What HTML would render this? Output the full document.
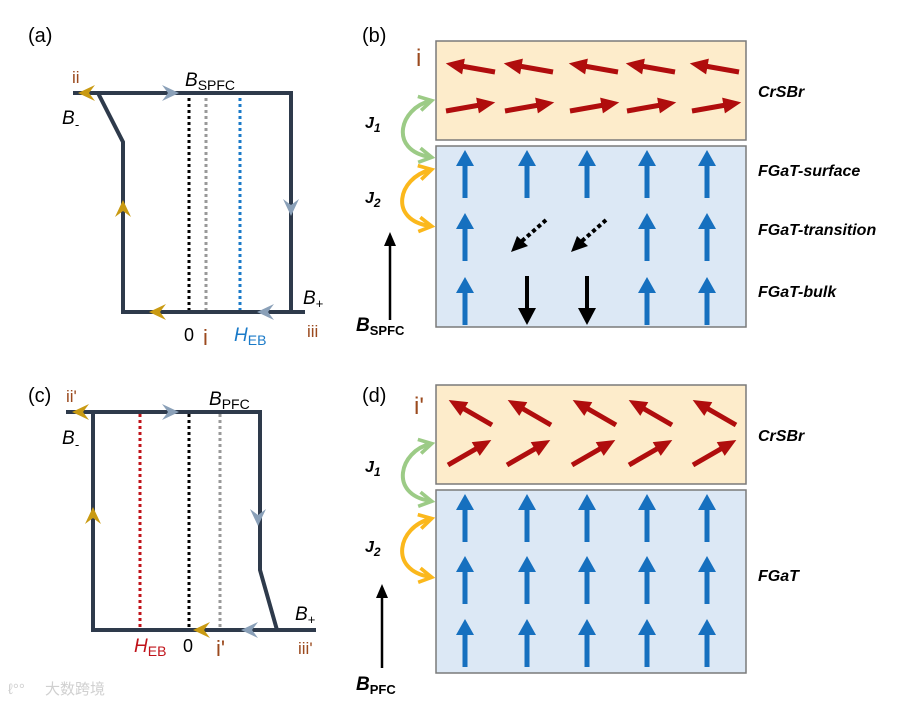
<!DOCTYPE html>
<html><head><meta charset="utf-8"><style>
body{margin:0;background:#fff}
svg{display:block;font-family:"Liberation Sans","Noto Sans CJK SC",sans-serif}
.bi{font-weight:bold;font-style:italic;font-size:16px}
</style></head><body>
<svg width="920" height="708" viewBox="0 0 920 708" xmlns="http://www.w3.org/2000/svg">
<defs>
<marker id="ag" viewBox="0 0 10 10" refX="7" refY="5" markerWidth="4.5" markerHeight="4.5" orient="auto-start-reverse"><path d="M1,1 L8,5 L1,9" fill="none" stroke="#9ccb86" stroke-width="2"/></marker>
<marker id="ao" viewBox="0 0 10 10" refX="7" refY="5" markerWidth="4.5" markerHeight="4.5" orient="auto-start-reverse"><path d="M1,1 L8,5 L1,9" fill="none" stroke="#fbb81c" stroke-width="2"/></marker>
<g id="chev"><polygon points="-9,-8 8,0 -9,8 -3,0"/></g>
<g id="blue"><line x1="0" y1="48" x2="0" y2="14" stroke="#1670bf" stroke-width="5"/><polygon points="-9,16 9,16 0,0" fill="#1670bf"/></g>
<g id="red"><line x1="0" y1="0" x2="-36" y2="0" stroke="#b00d0d" stroke-width="5"/><polygon points="-32,-8 -32,8 -50,0" fill="#b00d0d"/></g>
</defs>

<!-- (a) -->
<text x="28" y="42" font-size="20">(a)</text>
<g stroke="#2e3a4b" stroke-width="4" fill="none" stroke-linejoin="miter">
<polyline points="73,93 291,93 291,312"/>
<polyline points="98,93 123,142 123,312 305,312"/>
</g>
<g stroke-width="3" stroke-dasharray="3,3">
<line x1="189" y1="98" x2="189" y2="310" stroke="#000"/>
<line x1="206" y1="98" x2="206" y2="310" stroke="#999"/>
<line x1="240" y1="98" x2="240" y2="310" stroke="#1a7ac8"/>
</g>
<use href="#chev" transform="translate(86,93) rotate(180)" fill="#c99a12"/>
<use href="#chev" transform="translate(171,93)" fill="#8aa0b8"/>
<use href="#chev" transform="translate(291,208) rotate(90)" fill="#8aa0b8"/>
<use href="#chev" transform="translate(123,208) rotate(-90)" fill="#c99a12"/>
<use href="#chev" transform="translate(157,312) rotate(180)" fill="#c99a12"/>
<use href="#chev" transform="translate(265,312) rotate(180)" fill="#8aa0b8"/>
<text x="72" y="83" font-size="17" fill="#9b4a1e">ii</text>
<text x="62" y="124" font-size="19" font-style="italic">B<tspan font-size="13" dy="5">-</tspan></text>
<text x="185" y="86" font-size="19" font-style="italic">B<tspan font-style="normal" font-size="14" dy="4">SPFC</tspan></text>
<text x="303" y="304" font-size="19" font-style="italic">B<tspan font-style="normal" font-size="13" dy="4">+</tspan></text>
<text x="307" y="337" font-size="17" fill="#9b4a1e">iii</text>
<text x="184" y="341" font-size="18">0</text>
<text x="203" y="345" font-size="22" fill="#9b4a1e">i</text>
<text x="234" y="341" font-size="19" font-style="italic" fill="#1a7ac8">H<tspan font-style="normal" font-size="14" dy="4">EB</tspan></text>

<!-- (c) -->
<text x="28" y="402" font-size="20">(c)</text>
<g stroke="#2e3a4b" stroke-width="4" fill="none">
<polyline points="66,412 260,412 260,570 277,630"/>
<polyline points="93,412 93,630 316,630"/>
</g>
<g stroke-width="3" stroke-dasharray="3,3">
<line x1="140" y1="414" x2="140" y2="628" stroke="#c0131a"/>
<line x1="189" y1="414" x2="189" y2="628" stroke="#000"/>
<line x1="220" y1="414" x2="220" y2="628" stroke="#999"/>
</g>
<use href="#chev" transform="translate(80,412) rotate(180)" fill="#c99a12"/>
<use href="#chev" transform="translate(171,412)" fill="#8aa0b8"/>
<use href="#chev" transform="translate(258,518) rotate(90)" fill="#8aa0b8"/>
<use href="#chev" transform="translate(93,515) rotate(-90)" fill="#c99a12"/>
<use href="#chev" transform="translate(201,630) rotate(180)" fill="#c99a12"/>
<use href="#chev" transform="translate(249,630) rotate(180)" fill="#8aa0b8"/>
<text x="66" y="402" font-size="17" fill="#9b4a1e">ii'</text>
<text x="62" y="444" font-size="19" font-style="italic">B<tspan font-size="13" dy="5">-</tspan></text>
<text x="209" y="405" font-size="19" font-style="italic">B<tspan font-style="normal" font-size="14" dy="4">PFC</tspan></text>
<text x="295" y="620" font-size="19" font-style="italic">B<tspan font-style="normal" font-size="13" dy="4">+</tspan></text>
<text x="298" y="654" font-size="17" fill="#9b4a1e">iii'</text>
<text x="134" y="652" font-size="19" font-style="italic" fill="#c0131a">H<tspan font-style="normal" font-size="14" dy="4">EB</tspan></text>
<text x="183" y="652" font-size="18">0</text>
<text x="216" y="656" font-size="22" fill="#9b4a1e">i'</text>

<!-- (b) -->
<text x="362" y="42" font-size="20">(b)</text>
<text x="416" y="66" font-size="24" fill="#9b4a1e">i</text>
<rect x="436" y="41" width="310" height="99" fill="#fdeccb" stroke="#7a7a7a" stroke-width="1.5"/>
<rect x="436" y="146" width="310" height="181" fill="#dce8f5" stroke="#7a7a7a" stroke-width="1.5"/>
<g>
<use href="#red" transform="translate(495,72) rotate(10)"/>
<use href="#red" transform="translate(553,72) rotate(10)"/>
<use href="#red" transform="translate(618,72) rotate(10)"/>
<use href="#red" transform="translate(675,72) rotate(10)"/>
<use href="#red" transform="translate(739,72) rotate(10)"/>
<use href="#red" transform="translate(446,111) rotate(170)"/>
<use href="#red" transform="translate(505,111) rotate(170)"/>
<use href="#red" transform="translate(570,111) rotate(170)"/>
<use href="#red" transform="translate(627,111) rotate(170)"/>
<use href="#red" transform="translate(692,111) rotate(170)"/>
</g>
<g>
<use href="#blue" x="465" y="150"/><use href="#blue" x="527" y="150"/><use href="#blue" x="587" y="150"/><use href="#blue" x="647" y="150"/><use href="#blue" x="707" y="150"/>
<use href="#blue" x="465" y="213"/><use href="#blue" x="647" y="213"/><use href="#blue" x="707" y="213"/>
<use href="#blue" x="465" y="277"/><use href="#blue" x="647" y="277"/><use href="#blue" x="707" y="277"/>
</g>
<g stroke="#000" stroke-width="4">
<line x1="527" y1="276" x2="527" y2="310"/><line x1="587" y1="276" x2="587" y2="310"/>
<line x1="546" y1="220" x2="522" y2="241" stroke-dasharray="4,3"/>
<line x1="606" y1="220" x2="582" y2="241" stroke-dasharray="4,3"/>
</g>
<polygon points="518,308 536,308 527,325" fill="#000"/>
<polygon points="578,308 596,308 587,325" fill="#000"/>
<polygon points="511,252 517,236 528,246" fill="#000"/>
<polygon points="571,252 577,236 588,246" fill="#000"/>
<path d="M430,101 C400,108 388,150 430,157" fill="none" stroke="#9ccb86" stroke-width="4" marker-start="url(#ag)" marker-end="url(#ag)"/>
<path d="M430,170 C398,178 388,220 430,226" fill="none" stroke="#fbb81c" stroke-width="4" marker-start="url(#ao)" marker-end="url(#ao)"/>
<text x="365" y="128" class="bi" font-size="18">J<tspan font-size="12" dy="4">1</tspan></text>
<text x="365" y="203" class="bi" font-size="18">J<tspan font-size="12" dy="4">2</tspan></text>
<line x1="390" y1="320" x2="390" y2="244" stroke="#000" stroke-width="2.5"/>
<polygon points="384,246 396,246 390,232" fill="#000"/>
<text x="356" y="331" font-weight="bold" font-style="italic" font-size="19">B<tspan font-size="13" font-style="normal" dy="4">SPFC</tspan></text>
<text x="758" y="97" class="bi">CrSBr</text>
<text x="758" y="176" class="bi">FGaT-surface</text>
<text x="758" y="235" class="bi">FGaT-transition</text>
<text x="758" y="297" class="bi">FGaT-bulk</text>

<!-- (d) -->
<text x="362" y="402" font-size="20">(d)</text>
<text x="414" y="414" font-size="24" fill="#9b4a1e">i'</text>
<rect x="436" y="385" width="310" height="99" fill="#fdeccb" stroke="#7a7a7a" stroke-width="1.5"/>
<rect x="436" y="490" width="310" height="183" fill="#dce8f5" stroke="#7a7a7a" stroke-width="1.5"/>
<g>
<use href="#red" transform="translate(492,425) rotate(30)"/>
<use href="#red" transform="translate(551,425) rotate(30)"/>
<use href="#red" transform="translate(616,425) rotate(30)"/>
<use href="#red" transform="translate(672,425) rotate(30)"/>
<use href="#red" transform="translate(736,425) rotate(30)"/>
<use href="#red" transform="translate(448,465) rotate(150)"/>
<use href="#red" transform="translate(507,465) rotate(150)"/>
<use href="#red" transform="translate(572,465) rotate(150)"/>
<use href="#red" transform="translate(629,465) rotate(150)"/>
<use href="#red" transform="translate(693,465) rotate(150)"/>
</g>
<g>
<use href="#blue" x="465" y="494"/><use href="#blue" x="527" y="494"/><use href="#blue" x="587" y="494"/><use href="#blue" x="647" y="494"/><use href="#blue" x="707" y="494"/>
<use href="#blue" x="465" y="556"/><use href="#blue" x="527" y="556"/><use href="#blue" x="587" y="556"/><use href="#blue" x="647" y="556"/><use href="#blue" x="707" y="556"/>
<use href="#blue" x="465" y="619"/><use href="#blue" x="527" y="619"/><use href="#blue" x="587" y="619"/><use href="#blue" x="647" y="619"/><use href="#blue" x="707" y="619"/>
</g>
<path d="M430,444 C400,451 388,494 430,501" fill="none" stroke="#9ccb86" stroke-width="4" marker-start="url(#ag)" marker-end="url(#ag)"/>
<path d="M430,519 C398,527 388,570 430,577" fill="none" stroke="#fbb81c" stroke-width="4" marker-start="url(#ao)" marker-end="url(#ao)"/>
<text x="365" y="472" class="bi" font-size="18">J<tspan font-size="12" dy="4">1</tspan></text>
<text x="365" y="552" class="bi" font-size="18">J<tspan font-size="12" dy="4">2</tspan></text>
<line x1="382" y1="668" x2="382" y2="596" stroke="#000" stroke-width="2.5"/>
<polygon points="376,598 388,598 382,584" fill="#000"/>
<text x="356" y="690" font-weight="bold" font-style="italic" font-size="19">B<tspan font-size="13" font-style="normal" dy="4">PFC</tspan></text>
<text x="758" y="441" class="bi">CrSBr</text>
<text x="758" y="581" class="bi">FGaT</text>

<text x="45" y="694" font-size="15" fill="#d0d0d0">大数跨境</text>
<text x="8" y="694" font-size="15" fill="#d0d0d0">ℓ°°</text>
</svg>
</body></html>
